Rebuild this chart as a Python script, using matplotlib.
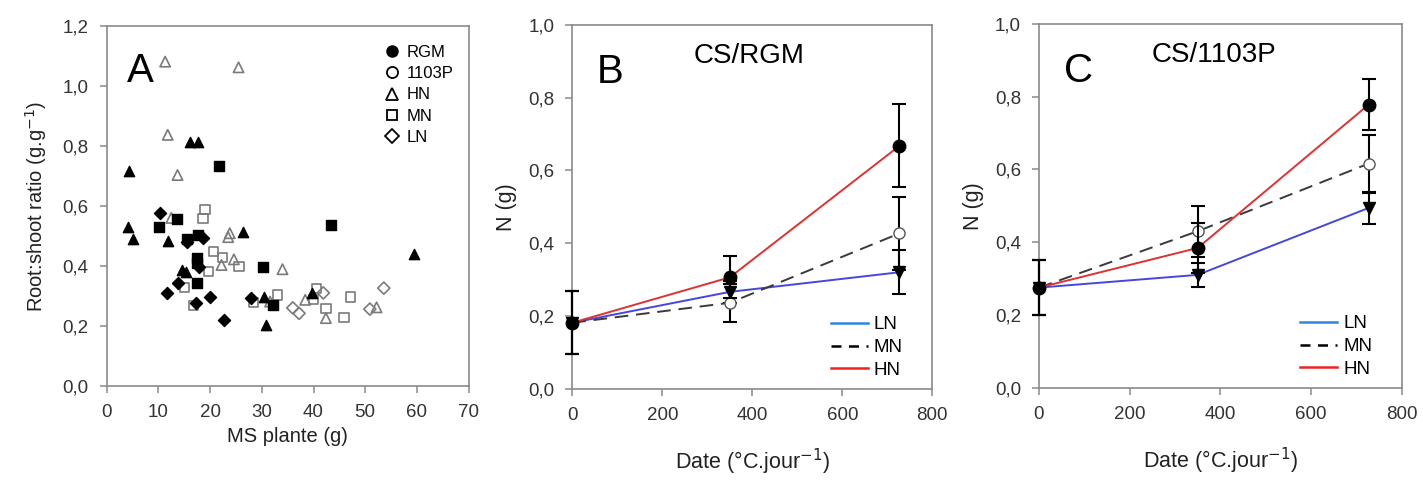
import matplotlib
matplotlib.use("Agg")
import matplotlib.pyplot as plt
from matplotlib.lines import Line2D
from matplotlib.ticker import FuncFormatter

plt.rcParams["font.family"] = ["Liberation Sans", "DejaVu Sans"]

# --- panel A : root:shoot ratio vs plant dry mass ---
ms_rgm_hn = [4.4, 16.1, 17.7, 4.2, 5.1, 11.8, 26.3, 14.5, 15.3, 30.4, 30.8, 39.7, 59.5]
rs_rgm_hn = [0.718, 0.812, 0.812, 0.531, 0.489, 0.483, 0.512, 0.387, 0.380, 0.298, 0.203, 0.309, 0.440]
ms_rgm_mn = [21.8, 13.5, 10.2, 43.4, 17.7, 15.5, 17.5, 17.5, 17.4, 30.3, 32.2]
rs_rgm_mn = [0.734, 0.557, 0.531, 0.537, 0.503, 0.490, 0.426, 0.410, 0.344, 0.396, 0.270]
ms_rgm_ln = [10.3, 15.5, 18.7, 17.9, 13.7, 11.6, 20.0, 22.7, 28.0, 17.3]
rs_rgm_ln = [0.578, 0.481, 0.494, 0.398, 0.342, 0.309, 0.298, 0.220, 0.292, 0.275]
ms_p_hn = [11.3, 25.5, 11.8, 13.7, 12.5, 23.8, 23.5, 22.2, 24.6, 34.0, 31.6, 38.4, 42.4, 52.2]
rs_p_hn = [1.081, 1.062, 0.837, 0.703, 0.560, 0.509, 0.496, 0.403, 0.422, 0.389, 0.281, 0.287, 0.226, 0.262]
ms_p_mn = [19.0, 18.6, 20.6, 22.4, 25.6, 19.7, 15.1, 16.8, 28.4, 33.1, 40.6, 40.0, 42.4, 47.2, 45.9]
rs_p_mn = [0.587, 0.559, 0.448, 0.428, 0.398, 0.381, 0.329, 0.267, 0.278, 0.303, 0.324, 0.287, 0.259, 0.296, 0.229]
ms_p_ln = [36.0, 37.2, 41.9, 50.9, 53.6]
rs_p_ln = [0.260, 0.242, 0.310, 0.256, 0.326]

# --- panels B and C : plant N over thermal time ---
days = [0, 350, 727]
rgm_ln = [0.181, 0.266, 0.320]
rgm_ln_err = [0.086, 0.030, 0.060]
rgm_mn = [0.181, 0.236, 0.427]
rgm_mn_err = [0.086, 0.052, 0.100]
rgm_hn = [0.181, 0.306, 0.668]
rgm_hn_err = [0.086, 0.058, 0.114]

p_ln = [0.275, 0.310, 0.494]
p_ln_err = [0.075, 0.032, 0.044]
p_mn = [0.275, 0.430, 0.616]
p_mn_err = [0.075, 0.070, 0.080]
p_hn = [0.275, 0.384, 0.778]
p_hn_err = [0.075, 0.070, 0.070]

SPINE = "#8a8a8a"
TXT = "#222222"
comma = FuncFormatter(lambda v, pos: f"{v:.1f}".replace(".", ","))


def style_axes(ax):
    for s in ax.spines.values():
        s.set_color(SPINE)
        s.set_linewidth(1.2)
    ax.tick_params(direction="out", length=5, width=1.1, color=SPINE,
                   labelsize=13.5, labelcolor="#333333", pad=8)


fig = plt.figure(figsize=(14.23, 4.8), dpi=100)
axA = fig.add_axes([0.075, 0.196, 0.2543, 0.75])
axB = fig.add_axes([0.4022, 0.1906, 0.253, 0.757])
axC = fig.add_axes([0.7301, 0.1925, 0.2549, 0.7575])

# panel A
open_kw = dict(facecolors="none", edgecolors="#7a7a7a", linewidths=1.2)
axA.scatter(ms_p_hn, rs_p_hn, marker="^", s=55, **open_kw)
axA.scatter(ms_p_mn, rs_p_mn, marker="s", s=45, **open_kw)
axA.scatter(ms_p_ln, rs_p_ln, marker="D", s=38, **open_kw)
axA.scatter(ms_rgm_hn, rs_rgm_hn, marker="^", s=55, color="black")
axA.scatter(ms_rgm_mn, rs_rgm_mn, marker="s", s=45, color="black")
axA.scatter(ms_rgm_ln, rs_rgm_ln, marker="D", s=38, color="black")
axA.set_xlim(0, 70)
axA.set_ylim(0, 1.2)
axA.set_xticks(range(0, 71, 10))
axA.set_yticks([0, 0.2, 0.4, 0.6, 0.8, 1.0, 1.2])
axA.yaxis.set_major_formatter(comma)
axA.set_xlabel("MS plante (g)", fontsize=14.5, color=TXT, labelpad=4)
axA.set_ylabel("Root:shoot ratio (g.g$^{-1}$)", fontsize=14.5, color=TXT, labelpad=10)
axA.text(0.055, 0.845, "A", transform=axA.transAxes, fontsize=29, va="baseline")
handles_a = [
    Line2D([], [], ls="none", marker="o", ms=8, mfc="black", mec="black"),
    Line2D([], [], ls="none", marker="o", ms=8, mfc="white", mec="black", mew=1.3),
    Line2D([], [], ls="none", marker="^", ms=8, mfc="white", mec="black", mew=1.3),
    Line2D([], [], ls="none", marker="s", ms=7, mfc="white", mec="black", mew=1.3),
    Line2D([], [], ls="none", marker="D", ms=7, mfc="white", mec="black", mew=1.3),
]
axA.legend(handles_a, ["RGM", "1103P", "HN", "MN", "LN"], loc="upper right",
           bbox_to_anchor=(0.99, 0.98), frameon=False, fontsize=12,
           handlelength=0.8, handletextpad=0.45, labelspacing=0.38, borderaxespad=0.3)
style_axes(axA)


def n_panel(ax, ln, ln_err, mn, mn_err, hn, hn_err, letter, title, tx):
    eb = dict(ecolor="black", elinewidth=1.5, capsize=4.7, capthick=1.5)
    conts = [
        ax.errorbar(days, ln, yerr=ln_err, color="#4646e0", lw=1.4, marker="v",
                    ms=8, mfc="black", mec="black", zorder=3, **eb),
        ax.errorbar(days, mn, yerr=mn_err, color="#3a3a3a", lw=1.4, ls=(0, (7, 4)),
                    marker="o", ms=8, mfc="white", mec="#555555", zorder=4, **eb),
        ax.errorbar(days, hn, yerr=hn_err, color="#e03232", lw=1.4, marker="o",
                    ms=9, mfc="black", mec="black", zorder=5, **eb),
    ]
    for c in conts:
        for art in c.get_children():
            art.set_clip_on(False)
    ax.set_xlim(0, 800)
    ax.set_ylim(0, 1.0)
    ax.set_xticks(range(0, 801, 200))
    ax.set_yticks([0, 0.2, 0.4, 0.6, 0.8, 1.0])
    ax.yaxis.set_major_formatter(comma)
    ax.set_xlabel("Date (°C.jour$^{-1}$)", fontsize=15.5, color=TXT, labelpad=17)
    ax.set_ylabel("N (g)", fontsize=15.5, color=TXT, labelpad=8)
    ax.text(0.068, 0.84, letter, transform=ax.transAxes, fontsize=29, va="baseline")
    ax.text(tx, 0.895, title, transform=ax.transAxes, fontsize=20, va="baseline")
    handles = [
        Line2D([], [], color="#2f86dc", lw=1.8),
        Line2D([], [], color="black", lw=1.8, ls=(0, (4, 3))),
        Line2D([], [], color="#ee2222", lw=1.8),
    ]
    ax.legend(handles, ["LN", "MN", "HN"], loc="lower right",
              bbox_to_anchor=(0.965, -0.02), frameon=False, fontsize=13.5,
              handlelength=2.0, handletextpad=0.3, labelspacing=0.3)
    style_axes(ax)


n_panel(axB, rgm_ln, rgm_ln_err, rgm_mn, rgm_mn_err, rgm_hn, rgm_hn_err,
        "B", "CS/RGM", 0.338)
n_panel(axC, p_ln, p_ln_err, p_mn, p_mn_err, p_hn, p_hn_err,
        "C", "CS/1103P", 0.31)

fig.savefig("out.png", dpi=100)
